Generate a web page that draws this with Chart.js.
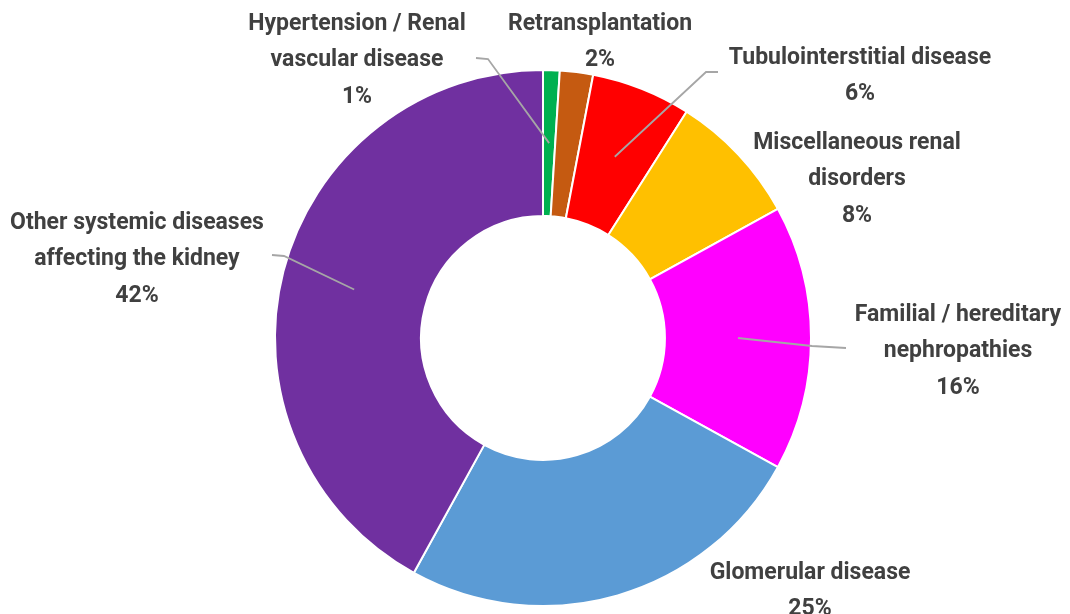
<!DOCTYPE html>
<html>
<head>
<meta charset="utf-8">
<script src="https://cdn.jsdelivr.net/npm/chart.js@4.4.0/dist/chart.umd.min.js"></script>
<style>
  html, body { margin: 0; padding: 0; background: #fff; }
  #wrap { width: 1070px; height: 614px; }
</style>
</head>
<body>
<div id="wrap"><canvas id="chart" width="1070" height="614"></canvas></div>
<script>
// ── Data ─────────────────────────────────────────────────────
const categories = [
  ["Hypertension / Renal", "vascular disease"],
  ["Retransplantation"],
  ["Tubulointerstitial disease"],
  ["Miscellaneous renal", "disorders"],
  ["Familial / hereditary", "nephropathies"],
  ["Glomerular disease"],
  ["Other systemic diseases", "affecting the kidney"],
];
const shares = [1, 2, 6, 8, 16, 25, 42];
const sliceColors = ["#00B050", "#C55A11", "#FF0000", "#FFC000", "#FF00FF", "#5B9BD5", "#7030A0"];

// ── Label layout (text block centre x, first line y, optional leader elbow + end) ──
const labelLayout = [
  { x: 357, y: 24, leader: [[488, 59], [476, 58]] },
  { x: 600, y: 24 },
  { x: 860, y: 58, leader: [[706, 72], [718, 72]] },
  { x: 857, y: 143 },
  { x: 958, y: 315, leader: [[812, 346], [846, 348]] },
  { x: 810, y: 573 },
  { x: 137, y: 223, leader: [[284, 256], [272, 255]] },
];

const LINE_H = 36.5;
const FONT = "bold 23px Roboto";

const outsideLabels = {
  id: "outsideLabels",
  afterDatasetsDraw(chart) {
    const ctx = chart.ctx;
    const arcs = chart.getDatasetMeta(0).data;
    ctx.save();
    arcs.forEach((arc, i) => {
      const lay = labelLayout[i];
      const p = arc.getProps(["x", "y", "startAngle", "endAngle", "innerRadius", "outerRadius"], true);
      if (lay.leader) {
        const mid = (p.startAngle + p.endAngle) / 2;
        const r = p.innerRadius + (p.outerRadius - p.innerRadius) * 0.5;
        ctx.beginPath();
        ctx.moveTo(p.x + Math.cos(mid) * r, p.y + Math.sin(mid) * r);
        lay.leader.forEach(([lx, ly]) => ctx.lineTo(lx, ly));
        ctx.strokeStyle = "#A6A6A6";
        ctx.lineWidth = 1.8;
        ctx.stroke();
      }
      const lines = [...categories[i], shares[i] + "%"];
      ctx.fillStyle = "#404040";
      ctx.font = FONT;
      ctx.textAlign = "center";
      ctx.textBaseline = "middle";
      lines.forEach((t, k) => ctx.fillText(t, lay.x, lay.y + k * LINE_H));
    });
    ctx.restore();
  },
};

new Chart(document.getElementById("chart"), {
  type: "doughnut",
  data: {
    labels: categories.map((c) => c.join(" ")),
    datasets: [
      {
        data: shares,
        backgroundColor: sliceColors,
        borderColor: "#ffffff",
        borderWidth: 2,
      },
    ],
  },
  options: {
    responsive: false,
    animation: false,
    cutout: "45.5%",
    layout: { padding: { top: 69, bottom: 7, left: 274, right: 258 } },
    plugins: {
      legend: { display: false },
      tooltip: { enabled: false },
    },
  },
  plugins: [outsideLabels],
});
</script>
</body>
</html>
